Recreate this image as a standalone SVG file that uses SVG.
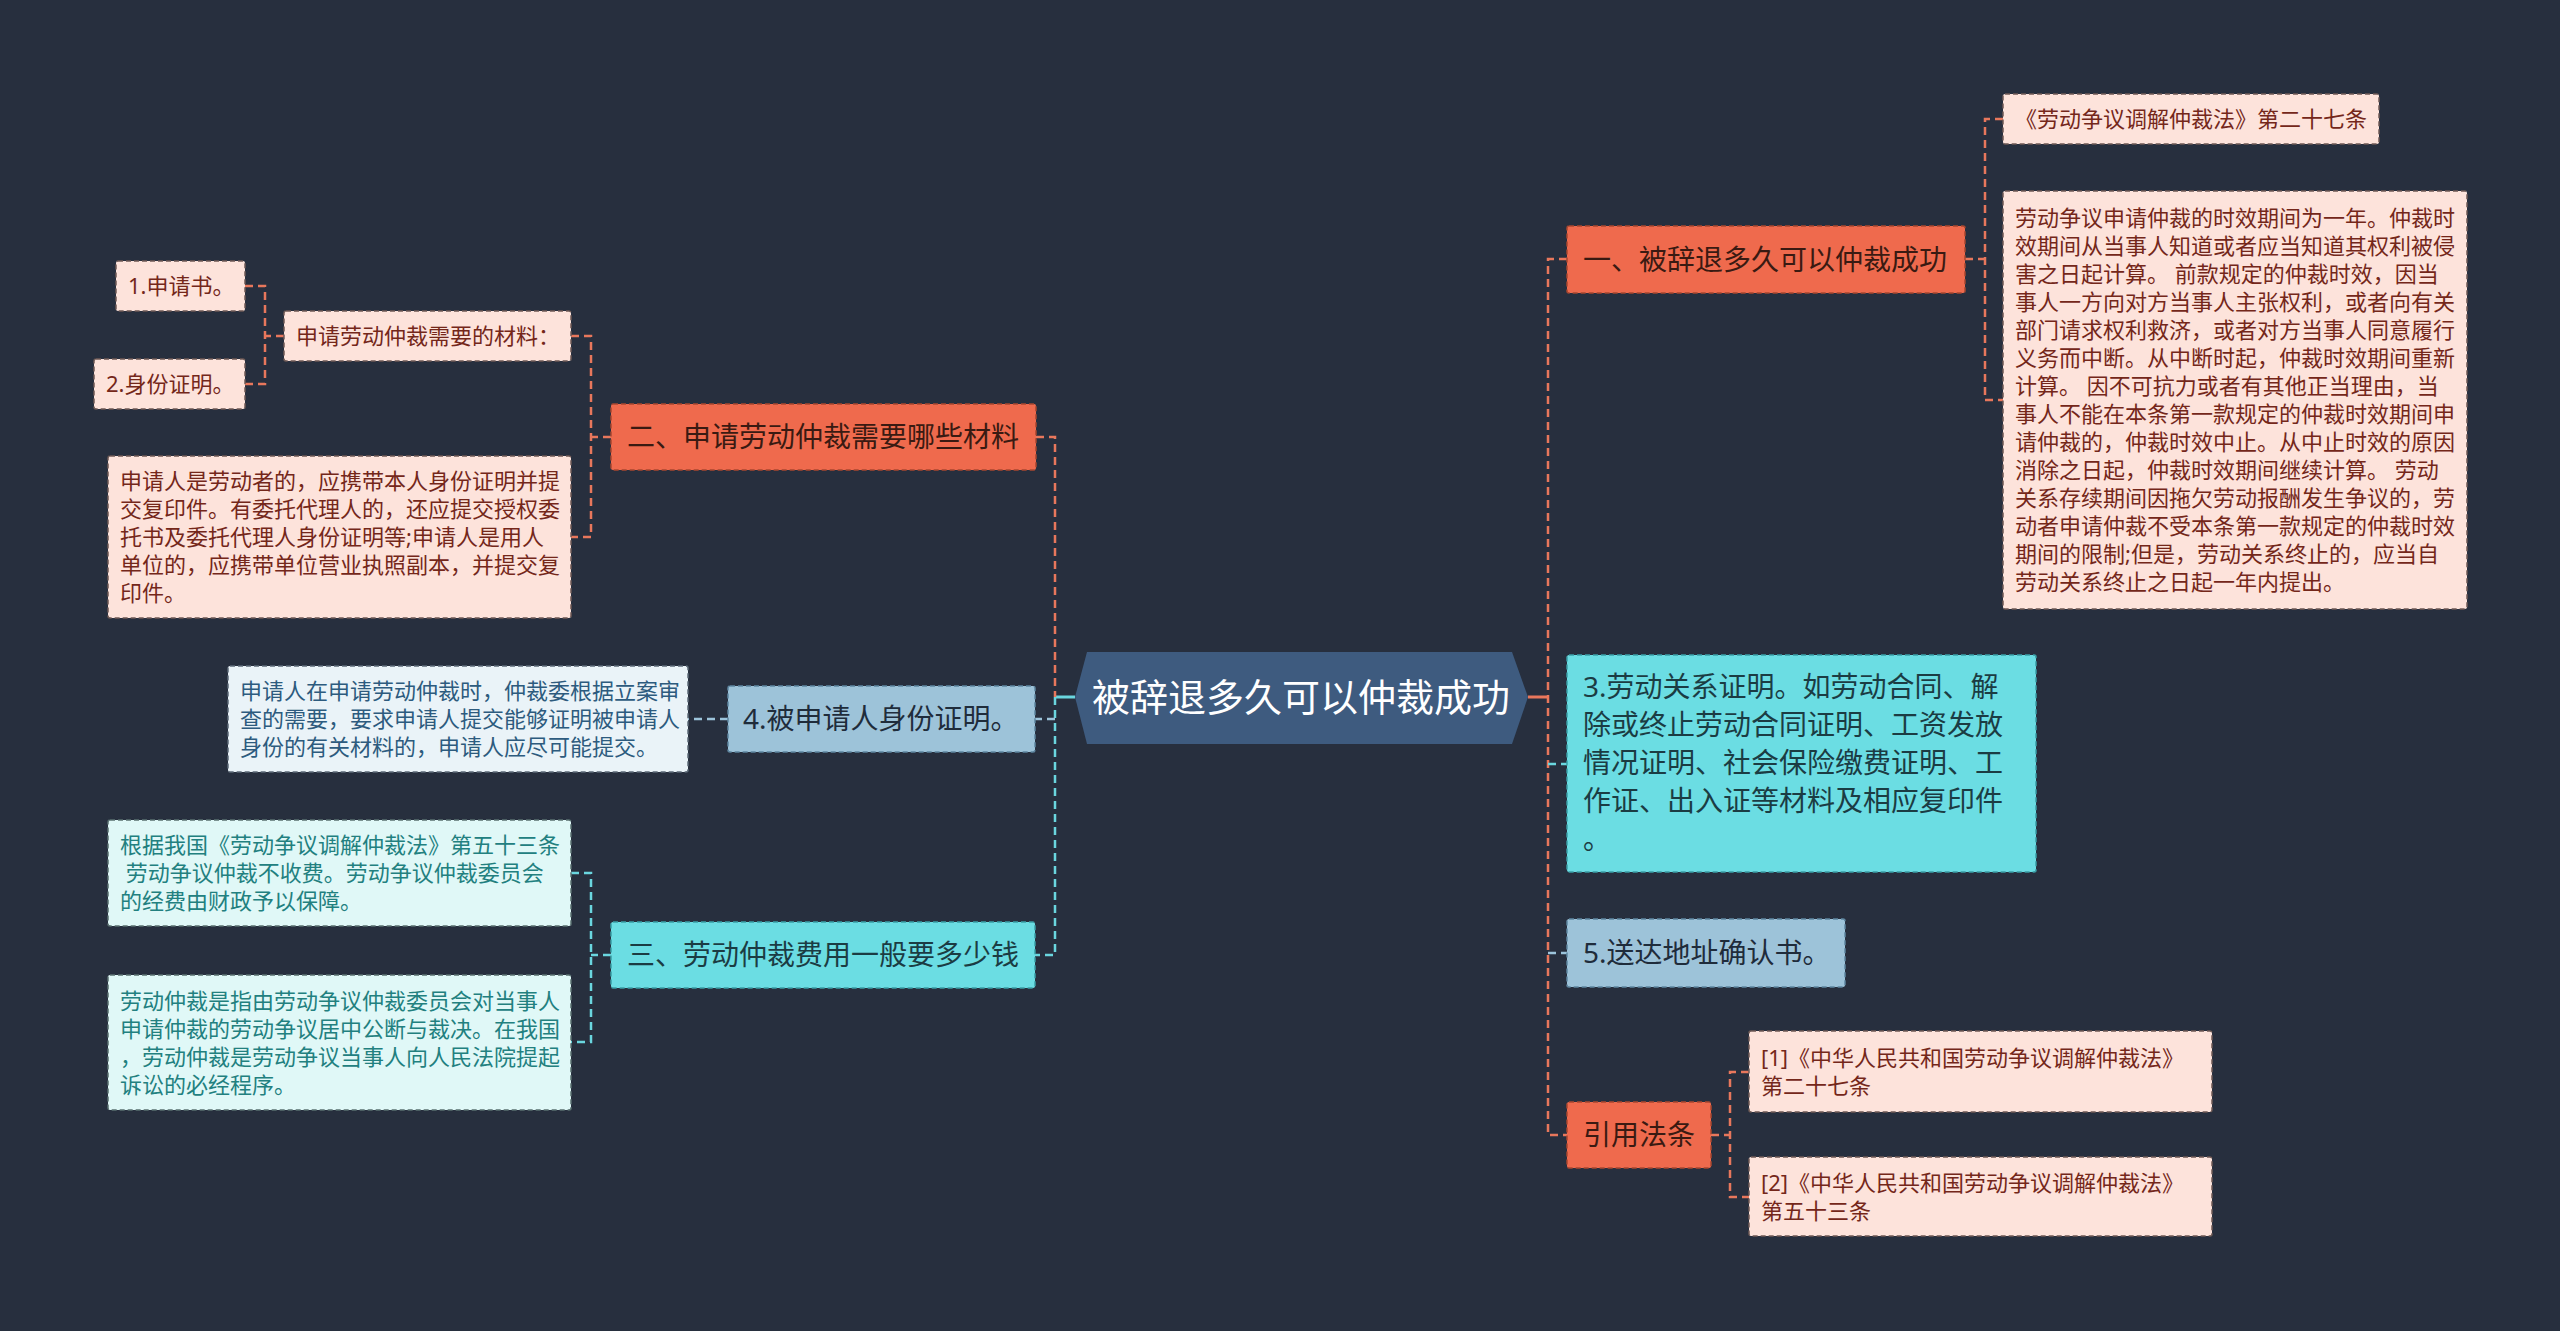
<svg xmlns="http://www.w3.org/2000/svg" width="2560" height="1331" viewBox="0 0 2560 1331">
<style>
text{font-family:"Noto Sans","Noto Sans CJK SC",sans-serif;}
.bg{fill:#272f3e;}
.c{fill:none;stroke-width:2.5;stroke-dasharray:8 5;}
.co{stroke:#e8775c;}
.cc{stroke:#6ad6df;}
.cb{stroke:#9cc4db;}
.solid{fill:none;stroke-width:3;}
.n-or{fill:#ef6a4d;stroke:#a9472f;stroke-width:1.5;stroke-dasharray:5 3;}
.n-cy{fill:#6bdde3;stroke:#3a9ea6;stroke-width:1.5;stroke-dasharray:5 3;}
.n-bl{fill:#9dc3d9;stroke:#5e86a0;stroke-width:1.5;stroke-dasharray:5 3;}
.l-pk{fill:#fde3db;stroke:#6f5a55;stroke-width:1.5;stroke-dasharray:5 3;}
.l-cy{fill:#e0f8f7;stroke:#5a7070;stroke-width:1.5;stroke-dasharray:5 3;}
.l-bl{fill:#eaf3f8;stroke:#5d6b78;stroke-width:1.5;stroke-dasharray:5 3;}
.t-or{fill:#3a1a12;font-size:28px;}
.t-cy{fill:#1b3c43;font-size:28px;}
.t-bl{fill:#1f2c3b;font-size:28px;}
.t-pk{fill:#74271a;font-size:22px;}
.t-lc{fill:#22807f;font-size:22px;}
.t-lb{fill:#2d5b7e;font-size:22px;}
</style>
<rect class="bg" x="0" y="0" width="2560" height="1331"/>

<g id="connectors">
  <path class="solid" stroke="#6ad6df" d="M1075 697 H1055"/>
  <path class="solid" stroke="#e8775c" d="M1528 697 H1548"/>
  <path class="c co" d="M1036 437 H1055 V697"/>
  <path class="c cc" d="M1055 697 V955 H1035"/>
  <path class="c cb" d="M1055 719 H1035"/>
  <path class="c co" d="M611 437 H591"/>
  <path class="c co" d="M571 336 H591 V537 H571"/>
  <path class="c co" d="M284 336 H265"/>
  <path class="c co" d="M245 286 H265 V384 H245"/>
  <path class="c cb" d="M728 719 H688"/>
  <path class="c cc" d="M611 955 H591"/>
  <path class="c cc" d="M571 873 H591 V1042 H571"/>
  <path class="c co" d="M1567 259 H1548 V1135 H1567"/>
  <path class="c co" d="M1965 259 H1985"/>
  <path class="c co" d="M2003 119 H1985 V400 H2003"/>
  <path class="c cc" d="M1548 764 H1567"/>
  <path class="c cb" d="M1548 953 H1567"/>
  <path class="c co" d="M1711 1135 H1730"/>
  <path class="c co" d="M1749 1072 H1730 V1197 H1749"/>
</g>

<g id="root">
  <polygon points="1075,697 1087,652 1512,652 1528,697 1512,744 1087,744" fill="#3e5b7f"/>
  <text x="1301" y="711" text-anchor="middle" font-size="38" fill="#ffffff">被辞退多久可以仲裁成功</text>
</g>

<g id="n-er">
  <rect class="n-or" x="611" y="404" width="425" height="66" rx="2"/>
  <text class="t-or" x="627" y="447">二、申请劳动仲裁需要哪些材料</text>
</g>
<g id="n-materials">
  <rect class="l-pk" x="284" y="311" width="287" height="50" rx="2"/>
  <text class="t-pk" x="296" y="344">申请劳动仲裁需要的材料：</text>
</g>
<g id="n-1">
  <rect class="l-pk" x="116" y="261" width="129" height="50" rx="2"/>
  <text class="t-pk" x="128" y="294">1.申请书。</text>
</g>
<g id="n-2">
  <rect class="l-pk" x="94" y="359" width="151" height="50" rx="2"/>
  <text class="t-pk" x="106" y="392">2.身份证明。</text>
</g>
<g id="n-applicant">
  <rect class="l-pk" x="108" y="456" width="463" height="162" rx="2"/>
  <text class="t-pk" x="120" y="489"><tspan x="120">申请人是劳动者的，应携带本人身份证明并提</tspan><tspan x="120" dy="28">交复印件。有委托代理人的，还应提交授权委</tspan><tspan x="120" dy="28">托书及委托代理人身份证明等;申请人是用人</tspan><tspan x="120" dy="28">单位的，应携带单位营业执照副本，并提交复</tspan><tspan x="120" dy="28">印件。</tspan></text>
</g>

<g id="n-4">
  <rect class="n-bl" x="728" y="686" width="307" height="66" rx="2"/>
  <text class="t-bl" x="743" y="729">4.被申请人身份证明。</text>
</g>
<g id="n-4-leaf">
  <rect class="l-bl" x="228" y="666" width="460" height="106" rx="2"/>
  <text class="t-lb" x="240" y="699"><tspan x="240">申请人在申请劳动仲裁时，仲裁委根据立案审</tspan><tspan x="240" dy="28">查的需要，要求申请人提交能够证明被申请人</tspan><tspan x="240" dy="28">身份的有关材料的，申请人应尽可能提交。</tspan></text>
</g>

<g id="n-san">
  <rect class="n-cy" x="611" y="922" width="424" height="66" rx="2"/>
  <text class="t-cy" x="627" y="965">三、劳动仲裁费用一般要多少钱</text>
</g>
<g id="n-san-leaf1">
  <rect class="l-cy" x="108" y="820" width="463" height="106" rx="2"/>
  <text class="t-lc" x="120" y="853" xml:space="preserve"><tspan x="120">根据我国《劳动争议调解仲裁法》第五十三条</tspan><tspan x="120" dy="28"> 劳动争议仲裁不收费。劳动争议仲裁委员会</tspan><tspan x="120" dy="28">的经费由财政予以保障。</tspan></text>
</g>
<g id="n-san-leaf2">
  <rect class="l-cy" x="108" y="975" width="463" height="135" rx="2"/>
  <text class="t-lc" x="120" y="1009"><tspan x="120">劳动仲裁是指由劳动争议仲裁委员会对当事人</tspan><tspan x="120" dy="28">申请仲裁的劳动争议居中公断与裁决。在我国</tspan><tspan x="120" dy="28">，劳动仲裁是劳动争议当事人向人民法院提起</tspan><tspan x="120" dy="28">诉讼的必经程序。</tspan></text>
</g>

<g id="n-yi">
  <rect class="n-or" x="1567" y="226" width="398" height="67" rx="2"/>
  <text class="t-or" x="1583" y="270">一、被辞退多久可以仲裁成功</text>
</g>
<g id="n-yi-law">
  <rect class="l-pk" x="2003" y="94" width="376" height="50" rx="2"/>
  <text class="t-pk" x="2015" y="127">《劳动争议调解仲裁法》第二十七条</text>
</g>
<g id="n-yi-text">
  <rect class="l-pk" x="2003" y="191" width="464" height="418" rx="2"/>
  <text class="t-pk" x="2015" y="226" xml:space="preserve"><tspan x="2015">劳动争议申请仲裁的时效期间为一年。仲裁时</tspan><tspan x="2015" dy="28">效期间从当事人知道或者应当知道其权利被侵</tspan><tspan x="2015" dy="28">害之日起计算。 前款规定的仲裁时效，因当</tspan><tspan x="2015" dy="28">事人一方向对方当事人主张权利，或者向有关</tspan><tspan x="2015" dy="28">部门请求权利救济，或者对方当事人同意履行</tspan><tspan x="2015" dy="28">义务而中断。从中断时起，仲裁时效期间重新</tspan><tspan x="2015" dy="28">计算。 因不可抗力或者有其他正当理由，当</tspan><tspan x="2015" dy="28">事人不能在本条第一款规定的仲裁时效期间申</tspan><tspan x="2015" dy="28">请仲裁的，仲裁时效中止。从中止时效的原因</tspan><tspan x="2015" dy="28">消除之日起，仲裁时效期间继续计算。 劳动</tspan><tspan x="2015" dy="28">关系存续期间因拖欠劳动报酬发生争议的，劳</tspan><tspan x="2015" dy="28">动者申请仲裁不受本条第一款规定的仲裁时效</tspan><tspan x="2015" dy="28">期间的限制;但是，劳动关系终止的，应当自</tspan><tspan x="2015" dy="28">劳动关系终止之日起一年内提出。</tspan></text>
</g>

<g id="n-3">
  <rect class="n-cy" x="1567" y="655" width="469" height="217" rx="2"/>
  <text class="t-cy" x="1583" y="697"><tspan x="1583">3.劳动关系证明。如劳动合同、解</tspan><tspan x="1583" dy="38">除或终止劳动合同证明、工资发放</tspan><tspan x="1583" dy="38">情况证明、社会保险缴费证明、工</tspan><tspan x="1583" dy="38">作证、出入证等材料及相应复印件</tspan><tspan x="1583" dy="38">。</tspan></text>
</g>

<g id="n-5">
  <rect class="n-bl" x="1567" y="919" width="278" height="68" rx="2"/>
  <text class="t-bl" x="1583" y="963">5.送达地址确认书。</text>
</g>

<g id="n-ref">
  <rect class="n-or" x="1567" y="1102" width="144" height="66" rx="2"/>
  <text class="t-or" x="1583" y="1145">引用法条</text>
</g>
<g id="n-ref1">
  <rect class="l-pk" x="1749" y="1031" width="463" height="81" rx="2"/>
  <text class="t-pk" x="1761" y="1066"><tspan x="1761">[1]《中华人民共和国劳动争议调解仲裁法》</tspan><tspan x="1761" dy="28">第二十七条</tspan></text>
</g>
<g id="n-ref2">
  <rect class="l-pk" x="1749" y="1157" width="463" height="79" rx="2"/>
  <text class="t-pk" x="1761" y="1191"><tspan x="1761">[2]《中华人民共和国劳动争议调解仲裁法》</tspan><tspan x="1761" dy="28">第五十三条</tspan></text>
</g>
</svg>
